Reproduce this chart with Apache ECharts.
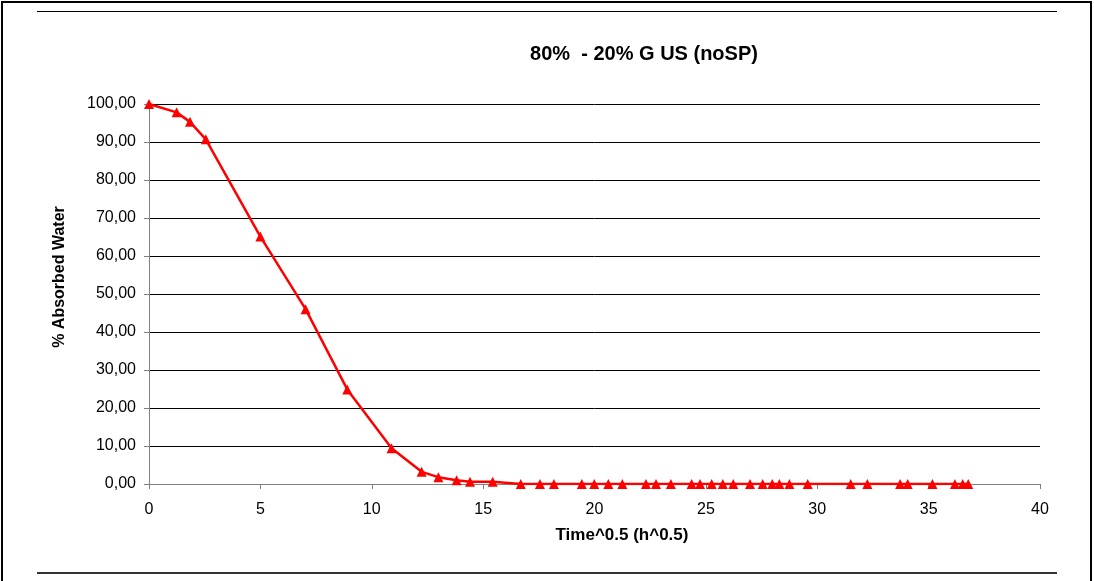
<!DOCTYPE html>
<html>
<head>
<meta charset="utf-8">
<script src="https://cdn.jsdelivr.net/npm/echarts@6/dist/echarts.min.js"></script>
<style>
html,body{margin:0;padding:0;background:#fff;}
#chart{width:1094px;height:581px;}
</style>
</head>
<body>
<div id="chart"></div>
<script>
const titleText = '80%  - 20% G US (noSP)';
const xAxisName = 'Time^0.5 (h^0.5)';
const yAxisName = '% Absorbed Water';
const timeSqrt = [0, 1.24, 1.84, 2.55, 5.0, 7.03, 8.9, 10.89, 12.24, 12.99, 13.81, 14.41, 15.43,
  16.69, 17.55, 18.18, 19.43, 19.99, 20.62, 21.25, 22.31, 22.76, 23.43, 24.36, 24.74, 25.26, 25.76,
  26.23, 26.98, 27.55, 27.98, 28.3, 28.75, 29.57, 31.5, 32.25, 33.72, 34.06, 35.17, 36.18, 36.53, 36.78];
const absorbed = [100, 97.8, 95.3, 90.7, 65.1, 46.0, 24.9, 9.4, 3.2, 1.8, 1.0, 0.6, 0.6,
  0, 0, 0, 0, 0, 0, 0, 0, 0, 0, 0, 0, 0, 0,
  0, 0, 0, 0, 0, 0, 0, 0, 0, 0, 0, 0, 0, 0, 0];
const xTicks = {min: 0, max: 40, interval: 5};
const yTicks = {min: 0, max: 100, interval: 10};

const FONT = '"Liberation Sans", Arial, sans-serif';
const chart = echarts.init(document.getElementById('chart'), null, {renderer: 'canvas'});
const option = {
  backgroundColor: '#fff',
  animation: false,
  grid: {left: 149, right: 54, top: 104, bottom: 97, containLabel: false},
  xAxis: {
    type: 'value', min: xTicks.min, max: xTicks.max, interval: xTicks.interval,
    axisLine: {show: true, onZero: false, lineStyle: {color: '#808080', width: 1}},
    axisTick: {show: true, inside: false, length: 5, lineStyle: {color: '#808080'}},
    axisLabel: {color: '#000', fontFamily: FONT, fontSize: 16, margin: 18},
    splitLine: {show: false}
  },
  yAxis: {
    type: 'value', min: yTicks.min, max: yTicks.max, interval: yTicks.interval,
    axisLine: {show: true, lineStyle: {color: '#808080', width: 1}},
    axisTick: {show: true, inside: false, length: 5, lineStyle: {color: '#808080'}},
    axisLabel: {color: '#000', fontFamily: FONT, fontSize: 16, margin: 13,
      formatter: v => v.toFixed(2).replace('.', ',')},
    splitLine: {show: true, lineStyle: {color: '#000', width: 1}}
  },
  series: [{
    type: 'line',
    data: timeSqrt.map((x, i) => [x, absorbed[i]]),
    symbol: 'triangle', symbolSize: 10,
    itemStyle: {color: '#ff0000'},
    lineStyle: {color: '#ff0000', width: 2.5},
    z: 5
  }],
  graphic: [
    {type: 'rect', shape: {x: 2, y: 2, width: 1089, height: 600}, style: {fill: 'none', stroke: '#000', lineWidth: 2}, silent: true},
    {type: 'line', shape: {x1: 37, y1: 11.5, x2: 1057, y2: 11.5}, style: {stroke: '#000', lineWidth: 1}},
    {type: 'line', shape: {x1: 37, y1: 573, x2: 1057, y2: 573}, style: {stroke: '#333', lineWidth: 2}},
    {type: 'text', x: 644, y: 54, style: {text: titleText, font: 'bold 20px ' + FONT, fill: '#000', textAlign: 'center', textVerticalAlign: 'middle'}},
    {type: 'text', x: 622, y: 535, style: {text: xAxisName, font: 'bold 17px ' + FONT, fill: '#000', textAlign: 'center', textVerticalAlign: 'middle'}},
    {type: 'text', x: 60, y: 277, rotation: Math.PI / 2, style: {text: yAxisName, font: 'bold 16px ' + FONT, fill: '#000', textAlign: 'center', textVerticalAlign: 'middle'}}
  ]
};
chart.setOption(option);
</script>
</body>
</html>
